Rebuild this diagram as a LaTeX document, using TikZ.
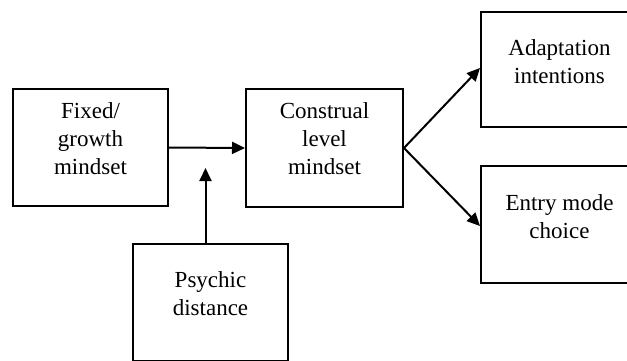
\documentclass[tikz,border=0pt]{standalone}
\usepackage{fontspec}
\setmainfont{Liberation Serif}
\usetikzlibrary{arrows.meta}
\begin{document}
\begin{tikzpicture}[x=1pt,y=-1pt,
  box/.style={draw, line width=2pt, inner sep=0pt, minimum width=155pt, minimum height=117pt},
  lbl/.style={anchor=north, inner sep=0pt, align=center, font=\fontsize{23}{28}\selectfont},
  conn/.style={line width=2pt, -{Triangle[length=13pt,width=12pt]}}]
\useasboundingbox (0,0) rectangle (627,360);
\clip (0,0) rectangle (627,360);

% boxes
\node[box] (fix) at (90.5,147.5) {};
\node[box, minimum width=157pt, minimum height=118pt] (con) at (324.5,148) {};
\node[box, minimum width=157pt, minimum height=115pt] (ada) at (559.5,69.5) {};
\node[box, minimum width=157pt] (ent) at (559.5,224.5) {};
\node[box] (psy) at (210.5,302.5) {};

% labels
\node[lbl] (fixtxt) at (90.5,102) {Fixed/\\growth\\mindset};
\node[lbl] (contxt) at (324.5,102) {Construal\\level\\mindset};
\node[lbl] (adatxt) at (559.5,39) {Adaptation\\intentions};
\node[lbl] (enttxt) at (559.5,194) {Entry mode\\choice};
\node[lbl] (psytxt) at (210.5,271) {Psychic\\distance};

% connectors
\coordinate (pdtip) at (205.5,168);
\draw[conn] (fix.east) -- (con.west);
\draw[conn] ([xshift=-5pt]psy.north) -- (pdtip);
\draw[conn] (con.east) -- ([yshift=1.5pt]ada.west);
\draw[conn] (con.east) -- ([yshift=-1.5pt]ent.west);
\end{tikzpicture}
\end{document}
